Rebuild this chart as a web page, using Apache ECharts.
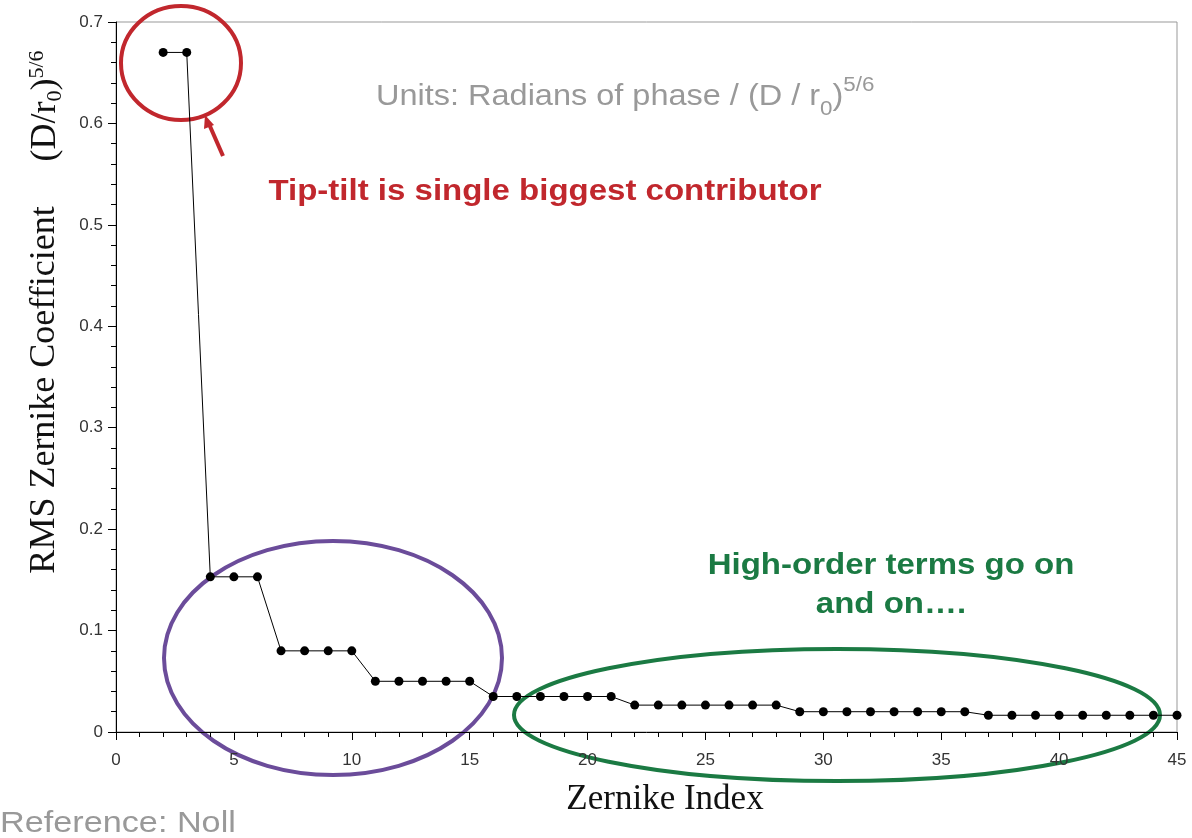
<!DOCTYPE html>
<html>
<head>
<meta charset="utf-8">
<script src="https://cdn.jsdelivr.net/npm/echarts@6/dist/echarts.min.js"></script>
<style>
  html, body { margin: 0; padding: 0; background: #fff; }
  #main { width: 1192px; height: 838px; }
</style>
</head>
<body>
<div id="main"></div>
<script>
// Zernike index (Noll ordering) and RMS coefficient
var zernikeIndex = [2, 3, 4, 5, 6, 7, 8, 9, 10, 11, 12, 13, 14, 15, 16, 17, 18, 19, 20, 21, 22, 23,
    24, 25, 26, 27, 28, 29, 30, 31, 32, 33, 34, 35, 36, 37, 38, 39, 40, 41, 42, 43, 44, 45];
var rmsCoeff = [0.670, 0.670,
    0.153, 0.153, 0.153,
    0.080, 0.080, 0.080, 0.080,
    0.050, 0.050, 0.050, 0.050, 0.050,
    0.035, 0.035, 0.035, 0.035, 0.035, 0.035,
    0.0265, 0.0265, 0.0265, 0.0265, 0.0265, 0.0265, 0.0265,
    0.020, 0.020, 0.020, 0.020, 0.020, 0.020, 0.020, 0.020,
    0.0165, 0.0165, 0.0165, 0.0165, 0.0165, 0.0165, 0.0165, 0.0165, 0.0165];
var xTicks = [0, 5, 10, 15, 20, 25, 30, 35, 40, 45];
var yTicks = [0, 0.1, 0.2, 0.3, 0.4, 0.5, 0.6, 0.7];

var points = zernikeIndex.map(function (x, i) { return [x, rmsCoeff[i]]; });

var chart = echarts.init(document.getElementById('main'));

var sans = 'Liberation Sans, Arial, sans-serif';
var serif = 'Liberation Serif, Times New Roman, serif';

var option = {
    backgroundColor: '#fff',
    animation: false,
    grid: {
        left: 116,
        top: 22,
        right: 15,
        bottom: 106,
        show: true,
        borderColor: '#999',
        borderWidth: 1
    },
    xAxis: {
        type: 'value',
        min: xTicks[0],
        max: xTicks[xTicks.length - 1],
        interval: 5,
        axisLine: { lineStyle: { color: '#000', width: 1 } },
        axisTick: { show: true, length: 8, lineStyle: { color: '#000' } },
        minorTick: { show: true, splitNumber: 5, length: 5, lineStyle: { color: '#000' } },
        splitLine: { show: false },
        axisLabel: { fontFamily: sans, fontSize: 17, color: '#333', margin: 20 }
    },
    yAxis: {
        type: 'value',
        min: yTicks[0],
        max: yTicks[yTicks.length - 1],
        interval: 0.1,
        axisLine: { show: true, lineStyle: { color: '#000', width: 1 } },
        axisTick: { show: true, length: 8, lineStyle: { color: '#000' } },
        minorTick: { show: true, splitNumber: 5, length: 5, lineStyle: { color: '#000' } },
        splitLine: { show: false },
        axisLabel: {
            fontFamily: sans, fontSize: 17, color: '#333', margin: 13,
            formatter: function (v) { return v === 0 ? '0' : v.toFixed(1); }
        }
    },
    series: [{
        type: 'line',
        data: points,
        symbol: 'circle',
        symbolSize: 9,
        lineStyle: { color: '#000', width: 1 },
        itemStyle: { color: '#000' }
    }],
    graphic: [
        // y axis title, two parts
        {
            type: 'text',
            x: 45, y: 390,
            rotation: Math.PI / 2,
            style: {
                text: 'RMS Zernike Coefficient',
                font: '36px ' + serif,
                fill: '#111',
                align: 'center',
                verticalAlign: 'middle'
            }
        },
        {
            type: 'text',
            x: 46, y: 106,
            rotation: Math.PI / 2,
            style: {
                text: '{a|(D/r}{sub|0}{a|)}{sup|5/6}',
                align: 'center',
                verticalAlign: 'middle',
                rich: {
                    a: { fontFamily: serif, fontSize: 36, fill: '#111', lineHeight: 40, verticalAlign: 'middle' },
                    sub: { fontFamily: serif, fontSize: 22, fill: '#111', lineHeight: 40, verticalAlign: 'bottom' },
                    sup: { fontFamily: serif, fontSize: 22, fill: '#111', lineHeight: 40, verticalAlign: 'top' }
                }
            }
        },
        // x axis title
        {
            type: 'text',
            x: 665, y: 800,
            style: {
                text: 'Zernike Index',
                font: '35px ' + serif,
                fill: '#111',
                align: 'center',
                verticalAlign: 'middle'
            }
        },
        // units note
        {
            type: 'text',
            x: 376, y: 97,
            scaleX: 1.12,
            style: {
                text: '{a|Units: Radians of phase / (D / r}{sub|0}{a|)}{sup|5/6}',
                align: 'left',
                verticalAlign: 'middle',
                rich: {
                    a: { fontFamily: sans, fontSize: 29, fill: '#999', lineHeight: 44, verticalAlign: 'middle' },
                    sub: { fontFamily: sans, fontSize: 20, fill: '#999', lineHeight: 44, verticalAlign: 'bottom' },
                    sup: { fontFamily: sans, fontSize: 20, fill: '#999', lineHeight: 44, verticalAlign: 'top' }
                }
            }
        },
        // tip-tilt annotation
        {
            type: 'ellipse',
            shape: { cx: 181, cy: 63, rx: 60, ry: 57 },
            style: { fill: 'none', stroke: '#c1272d', lineWidth: 4 }
        },
        {
            type: 'line',
            shape: { x1: 223, y1: 156, x2: 209, y2: 124 },
            style: { stroke: '#c1272d', lineWidth: 4 }
        },
        {
            type: 'polygon',
            shape: { points: [[205, 115], [214, 125], [204, 129]] },
            style: { fill: '#c1272d' }
        },
        {
            type: 'text',
            x: 545, y: 192,
            scaleX: 1.1,
            style: {
                text: 'Tip-tilt is single biggest contributor',
                font: 'bold 30px ' + sans,
                fill: '#c1272d',
                align: 'center',
                verticalAlign: 'middle'
            }
        },
        // low-order ellipse
        {
            type: 'ellipse',
            shape: { cx: 333, cy: 658, rx: 169, ry: 117 },
            style: { fill: 'none', stroke: '#6b4c9a', lineWidth: 4 }
        },
        // high-order ellipse
        {
            type: 'ellipse',
            shape: { cx: 837, cy: 715, rx: 323, ry: 66 },
            style: { fill: 'none', stroke: '#1b7a43', lineWidth: 4 }
        },
        {
            type: 'text',
            x: 891, y: 585,
            scaleX: 1.1,
            style: {
                text: 'High-order terms go on\nand on\u2026.',
                font: 'bold 30px ' + sans,
                fill: '#1b7a43',
                lineHeight: 39,
                align: 'center',
                verticalAlign: 'middle'
            }
        },
        // reference
        {
            type: 'text',
            x: 0, y: 824,
            scaleX: 1.18,
            style: {
                text: 'Reference: Noll',
                font: '29px ' + sans,
                fill: '#999',
                align: 'left',
                verticalAlign: 'middle'
            }
        }
    ]
};

chart.setOption(option);

window.addEventListener('resize', function () {
    chart.resize();
});
</script>
</body>
</html>
